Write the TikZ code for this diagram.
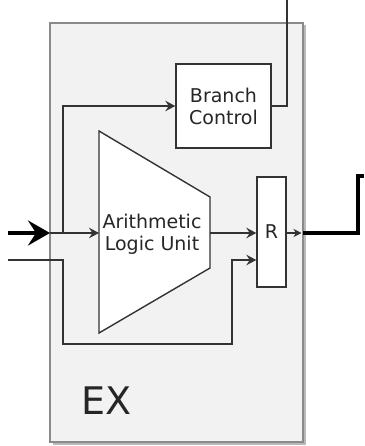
\documentclass[tikz,border=0pt]{standalone}
\usepackage{fontspec}
\setmainfont{DejaVu Sans}
\usetikzlibrary{arrows.meta}
\definecolor{exfill}{HTML}{F2F2F2}
\definecolor{exline}{HTML}{8A8A8A}
\definecolor{wire}{HTML}{333333}
\begin{document}
\begin{tikzpicture}[x=1pt,y=-1pt,
  wirestyle/.style={draw=wire,line width=1.4pt},
  arr/.style={wirestyle,-{Stealth[length=10pt,width=10.5pt,inset=3.5pt]}},
  unitbox/.style={draw=wire,line width=1.4pt,fill=white,inner sep=0pt,align=center,
    font=\fontsize{19}{22}\selectfont,text=black!85},
  thick wire/.style={draw=black,line width=4.5pt}]
\useasboundingbox (0,0) rectangle (364,446);
% EX stage
\fill[gray!55] (52.5,25.5) rectangle (305.5,444.5);
\draw[fill=exfill,draw=exline,line width=1.2pt] (50,23) rectangle (303,442);
\node[font=\fontsize{38}{40}\selectfont,text=black!85] (ex) at (107,401) {EX};
% Branch control
\node[unitbox,minimum width=95pt,minimum height=84pt] (bc) at (223.5,106) {Branch\\Control};
% R register
\node[unitbox,minimum width=29pt,minimum height=110pt] (r) at (271.5,232) {R};
% ALU trapezoid
\coordinate (aluTL) at (99,131);
\coordinate (aluBL) at (99,333);
\coordinate (aluTR) at (210,197);
\coordinate (aluBR) at (210,268);
\draw[draw=wire,line width=1.4pt,fill=white] (aluTL) -- (aluTR) -- (aluBR) -- (aluBL) -- cycle;
\node[align=center,font=\fontsize{19}{22}\selectfont,text=black!85,inner sep=0pt] (alu) at (152,234) {Arithmetic\\Logic Unit};
\coordinate (aluin) at (99,233);
\coordinate (aluout) at (210,233);
% inputs
\coordinate (in1) at (8,233);
\coordinate (exl) at (50,233);
\coordinate (j1) at (63,233);
\draw[thick wire,-{Stealth[length=22pt,width=25pt,inset=8pt]}] (in1) -- (exl);
\draw[arr] (exl) -- (aluin);
\draw[arr] (j1) |- (bc.west);
\coordinate (in2) at (8,260);
\coordinate (c1) at (63,260);
\coordinate (c2) at (63,344);
\coordinate (c3) at (232,344);
\coordinate (c4) at (232,260);
\draw[arr] (in2) -- (c1) -- (c2) -- (c3) -- (c4) -- (c4 -| r.west);
\draw[arr] (aluout) -- (aluout -| r.west);
% R output
\coordinate (exr) at (301.5,233);
\draw[arr,-{Stealth[length=8pt,width=8pt,inset=2.5pt]}] (r.east |- exr) -- (exr);
\coordinate (o1) at (358,233);
\coordinate (o2) at (358,176);
\coordinate (o3) at (364,176);
\draw[thick wire] (303,233) -- (o1) -- (o2) -- (o3);
% Branch control output
\coordinate (b1) at (287,106);
\coordinate (b2) at (287,0);
\draw[wirestyle] (bc.east) -- (b1) -- (b2);
\end{tikzpicture}
\end{document}
